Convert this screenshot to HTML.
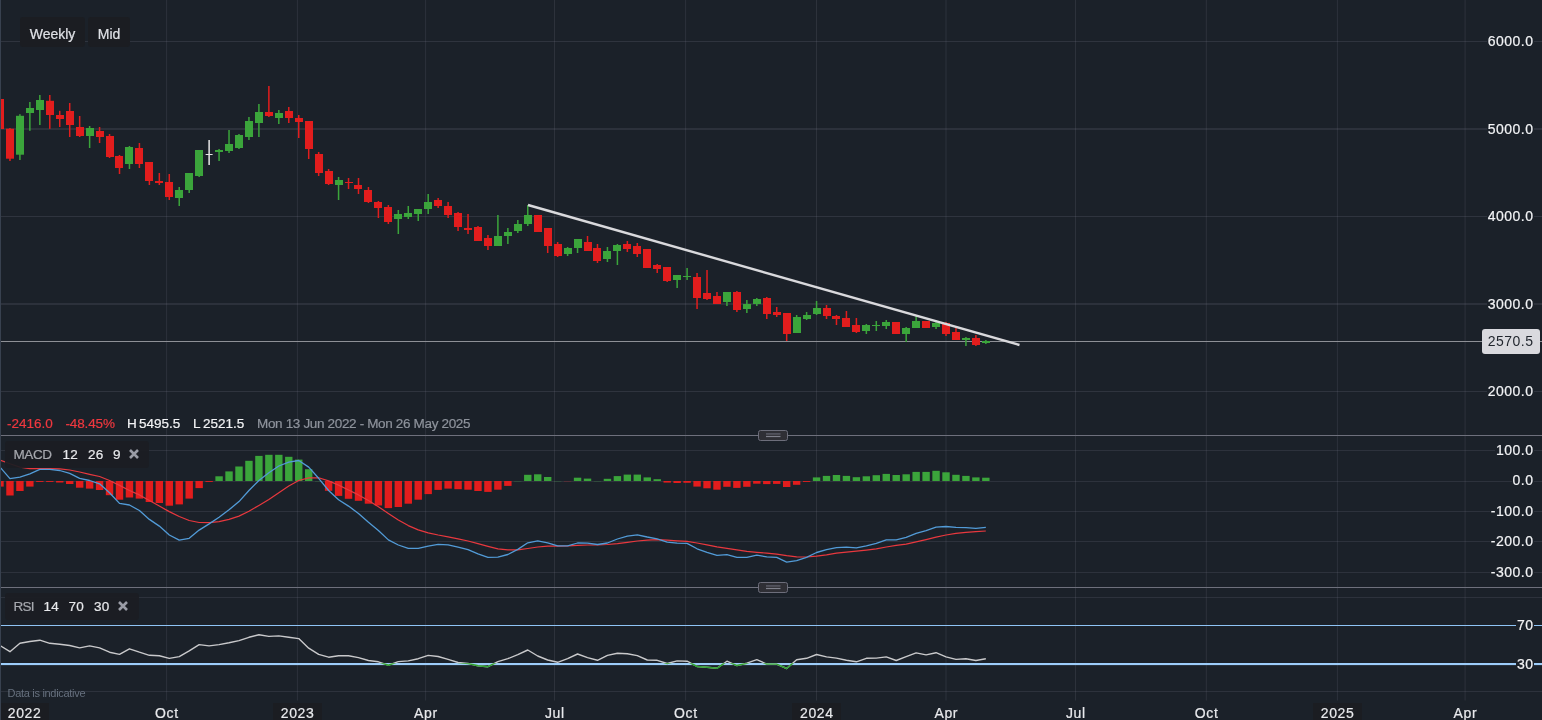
<!DOCTYPE html><html><head><meta charset="utf-8"><title>Chart</title><style>
html,body{margin:0;padding:0;background:#1b2129;}
body{width:1542px;height:720px;position:relative;overflow:hidden;font-family:"Liberation Sans",Arial,sans-serif;font-size:14px;color:#e8e9ec;}
.t{position:absolute;white-space:nowrap;line-height:16px;}
.btn,.tag span,.tl,.i{-webkit-text-stroke:0.2px currentColor;}
.ax{position:absolute;right:8.5px;letter-spacing:0.5px;white-space:nowrap;line-height:14px;height:14px;background:#1b2129;padding:0 0 0 1px;color:#f2f3f5;-webkit-text-stroke:0.2px #f2f3f5;}
.btn{position:absolute;top:17px;height:30px;line-height:35px;background:#1b1d22;border-radius:3px;color:#dfe1e6;box-sizing:border-box;text-align:center;}
.tag{position:absolute;height:26.5px;background:rgba(27,29,34,0.93);border-radius:3px;left:5px;font-size:13.5px;letter-spacing:0.2px;}
.tag span{position:absolute;top:0.7px;line-height:26px;white-space:nowrap;}
.g{color:#a7a9af;}
.i{top:416px;font-size:13.5px;}
.yr{position:absolute;top:703px;height:17px;width:48.5px;background:#1b1d22;}
.tl{position:absolute;top:703.5px;width:60px;margin-left:-30px;text-align:center;line-height:18px;color:#e8e9ec;letter-spacing:0.6px;text-indent:0.6px;}
</style></head><body>
<svg width="1542" height="720" viewBox="0 0 1542 720" style="position:absolute;left:0;top:0">
<rect width="1542" height="720" fill="#1b2129"/>
<rect x="0" y="41" width="1542" height="1" fill="rgba(130,130,150,0.2)"/>
<rect x="0" y="128" width="1542" height="2" fill="rgba(130,130,150,0.17)"/>
<rect x="0" y="216" width="1542" height="1" fill="rgba(130,130,150,0.2)"/>
<rect x="0" y="303" width="1542" height="2" fill="rgba(130,130,150,0.17)"/>
<rect x="0" y="391" width="1542" height="1" fill="rgba(130,130,150,0.2)"/>
<rect x="0" y="450" width="1542" height="1" fill="rgba(130,130,150,0.18)"/>
<rect x="0" y="481" width="1542" height="1" fill="rgba(130,130,150,0.18)"/>
<rect x="0" y="511" width="1542" height="1" fill="rgba(130,130,150,0.18)"/>
<rect x="0" y="541" width="1542" height="1" fill="rgba(130,130,150,0.18)"/>
<rect x="0" y="572" width="1542" height="1" fill="rgba(130,130,150,0.18)"/>
<rect x="0" y="597" width="1542" height="1" fill="rgba(130,130,150,0.18)"/>
<rect x="0" y="691" width="1542" height="1" fill="rgba(130,130,150,0.18)"/>
<rect x="166.1" y="0" width="1" height="700.5" fill="rgba(130,130,150,0.175)"/>
<rect x="296.9" y="0" width="1" height="700.5" fill="rgba(130,130,150,0.175)"/>
<rect x="425.1" y="0" width="1" height="700.5" fill="rgba(130,130,150,0.175)"/>
<rect x="554" y="0" width="1" height="700.5" fill="rgba(130,130,150,0.175)"/>
<rect x="685.1" y="0" width="1" height="700.5" fill="rgba(130,130,150,0.175)"/>
<rect x="816" y="0" width="1" height="700.5" fill="rgba(130,130,150,0.175)"/>
<rect x="945.5" y="0" width="1" height="700.5" fill="rgba(130,130,150,0.175)"/>
<rect x="1075" y="0" width="1" height="700.5" fill="rgba(130,130,150,0.175)"/>
<rect x="1205.8" y="0" width="1" height="700.5" fill="rgba(130,130,150,0.175)"/>
<rect x="1336.9" y="0" width="1" height="700.5" fill="rgba(130,130,150,0.175)"/>
<rect x="1464.6" y="0" width="1" height="700.5" fill="rgba(130,130,150,0.175)"/>
<rect x="-3.7" y="481" width="7.4" height="5.6" fill="#e21d1d"/>
<rect x="6.26" y="481" width="7.4" height="14.5" fill="#e21d1d"/>
<rect x="16.22" y="481" width="7.4" height="10" fill="#e21d1d"/>
<rect x="26.17" y="481" width="7.4" height="5.6" fill="#e21d1d"/>
<rect x="36.13" y="481" width="7.4" height="1" fill="#e21d1d" opacity="0.9"/>
<rect x="46.09" y="481" width="7.4" height="1" fill="#e21d1d" opacity="0.9"/>
<rect x="56.05" y="481" width="7.4" height="1.5" fill="#e21d1d"/>
<rect x="66.01" y="481" width="7.4" height="3" fill="#e21d1d"/>
<rect x="75.96" y="481" width="7.4" height="6.7" fill="#e21d1d"/>
<rect x="85.92" y="481" width="7.4" height="7.6" fill="#e21d1d"/>
<rect x="95.88" y="481" width="7.4" height="9" fill="#e21d1d"/>
<rect x="105.84" y="481" width="7.4" height="14.2" fill="#e21d1d"/>
<rect x="115.8" y="481" width="7.4" height="18.7" fill="#e21d1d"/>
<rect x="125.75" y="481" width="7.4" height="16.5" fill="#e21d1d"/>
<rect x="135.71" y="481" width="7.4" height="17.6" fill="#e21d1d"/>
<rect x="145.67" y="481" width="7.4" height="21" fill="#e21d1d"/>
<rect x="155.63" y="481" width="7.4" height="22" fill="#e21d1d"/>
<rect x="165.59" y="481" width="7.4" height="24.7" fill="#e21d1d"/>
<rect x="175.54" y="481" width="7.4" height="23.4" fill="#e21d1d"/>
<rect x="185.5" y="481" width="7.4" height="17.6" fill="#e21d1d"/>
<rect x="195.46" y="481" width="7.4" height="7.1" fill="#e21d1d"/>
<rect x="205.42" y="481" width="7.4" height="1" fill="#e21d1d" opacity="0.9"/>
<rect x="215.38" y="476.3" width="7.4" height="4.7" fill="#3ba53b"/>
<rect x="225.33" y="471.4" width="7.4" height="9.6" fill="#3ba53b"/>
<rect x="235.29" y="466.5" width="7.4" height="14.5" fill="#3ba53b"/>
<rect x="245.25" y="460.8" width="7.4" height="20.2" fill="#3ba53b"/>
<rect x="255.21" y="455.9" width="7.4" height="25.1" fill="#3ba53b"/>
<rect x="265.17" y="454.8" width="7.4" height="26.2" fill="#3ba53b"/>
<rect x="275.12" y="454.8" width="7.4" height="26.2" fill="#3ba53b"/>
<rect x="285.08" y="456.8" width="7.4" height="24.2" fill="#3ba53b"/>
<rect x="295.04" y="459.6" width="7.4" height="21.4" fill="#3ba53b"/>
<rect x="305" y="469.2" width="7.4" height="11.8" fill="#3ba53b"/>
<rect x="314.96" y="481" width="7.4" height="1" fill="#3ba53b" opacity="0.2"/>
<rect x="324.91" y="481" width="7.4" height="9.8" fill="#e21d1d"/>
<rect x="334.87" y="481" width="7.4" height="14.9" fill="#e21d1d"/>
<rect x="344.83" y="481" width="7.4" height="17.8" fill="#e21d1d"/>
<rect x="354.79" y="481" width="7.4" height="19.8" fill="#e21d1d"/>
<rect x="364.75" y="481" width="7.4" height="22.7" fill="#e21d1d"/>
<rect x="374.7" y="481" width="7.4" height="24.5" fill="#e21d1d"/>
<rect x="384.66" y="481" width="7.4" height="27.1" fill="#e21d1d"/>
<rect x="394.62" y="481" width="7.4" height="26" fill="#e21d1d"/>
<rect x="404.58" y="481" width="7.4" height="22.7" fill="#e21d1d"/>
<rect x="414.54" y="481" width="7.4" height="18.7" fill="#e21d1d"/>
<rect x="424.49" y="481" width="7.4" height="13.1" fill="#e21d1d"/>
<rect x="434.45" y="481" width="7.4" height="8.9" fill="#e21d1d"/>
<rect x="444.41" y="481" width="7.4" height="7.6" fill="#e21d1d"/>
<rect x="454.37" y="481" width="7.4" height="8.2" fill="#e21d1d"/>
<rect x="464.33" y="481" width="7.4" height="8.7" fill="#e21d1d"/>
<rect x="474.28" y="481" width="7.4" height="10" fill="#e21d1d"/>
<rect x="484.24" y="481" width="7.4" height="10.9" fill="#e21d1d"/>
<rect x="494.2" y="481" width="7.4" height="8.7" fill="#e21d1d"/>
<rect x="504.16" y="481" width="7.4" height="4.9" fill="#e21d1d"/>
<rect x="514.12" y="481" width="7.4" height="1" fill="#3ba53b" opacity="0.2"/>
<rect x="524.07" y="474.8" width="7.4" height="6.2" fill="#3ba53b"/>
<rect x="534.03" y="474.3" width="7.4" height="6.7" fill="#3ba53b"/>
<rect x="543.99" y="477" width="7.4" height="4" fill="#3ba53b"/>
<rect x="553.95" y="481" width="7.4" height="1" fill="#3ba53b" opacity="0.2"/>
<rect x="563.91" y="481" width="7.4" height="1" fill="#e21d1d" opacity="0.2"/>
<rect x="573.86" y="477.7" width="7.4" height="3.3" fill="#3ba53b"/>
<rect x="583.82" y="478.6" width="7.4" height="2.4" fill="#3ba53b"/>
<rect x="593.78" y="481" width="7.4" height="1" fill="#3ba53b" opacity="0.2"/>
<rect x="603.74" y="478.8" width="7.4" height="2.2" fill="#3ba53b"/>
<rect x="613.7" y="476.1" width="7.4" height="4.9" fill="#3ba53b"/>
<rect x="623.65" y="474.6" width="7.4" height="6.4" fill="#3ba53b"/>
<rect x="633.61" y="474.6" width="7.4" height="6.4" fill="#3ba53b"/>
<rect x="643.57" y="477.4" width="7.4" height="3.6" fill="#3ba53b"/>
<rect x="653.53" y="479.2" width="7.4" height="1.8" fill="#3ba53b"/>
<rect x="663.49" y="481" width="7.4" height="1.6" fill="#e21d1d"/>
<rect x="673.44" y="481" width="7.4" height="2" fill="#e21d1d"/>
<rect x="683.4" y="481" width="7.4" height="1.8" fill="#e21d1d"/>
<rect x="693.36" y="481" width="7.4" height="5.6" fill="#e21d1d"/>
<rect x="703.32" y="481" width="7.4" height="7.3" fill="#e21d1d"/>
<rect x="713.28" y="481" width="7.4" height="8.7" fill="#e21d1d"/>
<rect x="723.23" y="481" width="7.4" height="5.8" fill="#e21d1d"/>
<rect x="733.19" y="481" width="7.4" height="6.9" fill="#e21d1d"/>
<rect x="743.15" y="481" width="7.4" height="5.8" fill="#e21d1d"/>
<rect x="753.11" y="481" width="7.4" height="2.7" fill="#e21d1d"/>
<rect x="763.07" y="481" width="7.4" height="3.1" fill="#e21d1d"/>
<rect x="773.02" y="481" width="7.4" height="2.9" fill="#e21d1d"/>
<rect x="782.98" y="481" width="7.4" height="6" fill="#e21d1d"/>
<rect x="792.94" y="481" width="7.4" height="3.8" fill="#e21d1d"/>
<rect x="802.9" y="481" width="7.4" height="1" fill="#e21d1d" opacity="0.9"/>
<rect x="812.86" y="477.4" width="7.4" height="3.6" fill="#3ba53b"/>
<rect x="822.81" y="475.9" width="7.4" height="5.1" fill="#3ba53b"/>
<rect x="832.77" y="475" width="7.4" height="6" fill="#3ba53b"/>
<rect x="842.73" y="475.9" width="7.4" height="5.1" fill="#3ba53b"/>
<rect x="852.69" y="477.2" width="7.4" height="3.8" fill="#3ba53b"/>
<rect x="862.65" y="476.3" width="7.4" height="4.7" fill="#3ba53b"/>
<rect x="872.6" y="475.2" width="7.4" height="5.8" fill="#3ba53b"/>
<rect x="882.56" y="473.9" width="7.4" height="7.1" fill="#3ba53b"/>
<rect x="892.52" y="475" width="7.4" height="6" fill="#3ba53b"/>
<rect x="902.48" y="474.3" width="7.4" height="6.7" fill="#3ba53b"/>
<rect x="912.44" y="471.9" width="7.4" height="9.1" fill="#3ba53b"/>
<rect x="922.39" y="471.9" width="7.4" height="9.1" fill="#3ba53b"/>
<rect x="932.35" y="470.8" width="7.4" height="10.2" fill="#3ba53b"/>
<rect x="942.31" y="472.3" width="7.4" height="8.7" fill="#3ba53b"/>
<rect x="952.27" y="474.8" width="7.4" height="6.2" fill="#3ba53b"/>
<rect x="962.23" y="475.9" width="7.4" height="5.1" fill="#3ba53b"/>
<rect x="972.18" y="477.4" width="7.4" height="3.6" fill="#3ba53b"/>
<rect x="982.14" y="477.7" width="7.4" height="3.3" fill="#3ba53b"/>
<polyline points="0,460 9.96,463.8 19.92,467.1 29.87,468.7 39.83,468.7 49.79,468.7 59.75,468.9 69.71,470 79.66,472 89.62,474.3 99.58,476.5 109.54,480.5 119.5,485.4 129.45,490.5 139.41,494.9 149.37,500.5 159.33,506.1 169.29,511.6 179.24,516.5 189.2,520.5 199.16,522.5 209.12,522.7 219.08,521.6 229.03,519.4 238.99,516.1 248.95,511.2 258.91,505.4 268.87,499.4 278.82,492.7 288.78,486 298.74,480.5 308.7,477.8 318.66,477.8 328.61,480.9 338.57,485.1 348.53,490 358.49,494.9 368.45,500.5 378.4,506.7 388.36,513.4 398.32,519.9 408.28,525.6 418.24,529.9 428.19,532.8 438.15,535 448.11,536.8 458.07,538.8 468.03,541 477.98,543.7 487.94,546.3 497.9,548.8 507.86,549.9 517.82,549.9 527.77,548.5 537.73,547 547.69,546.1 557.65,546.1 567.61,545.9 577.56,545.4 587.52,545 597.48,545 607.44,544.5 617.4,543.7 627.35,542.3 637.31,541 647.27,540.1 657.23,539.6 667.19,540.1 677.14,540.8 687.1,541.4 697.06,543 707.02,544.8 716.98,546.8 726.93,548.3 736.89,549.9 746.85,551.4 756.81,552.3 766.77,553.2 776.72,554.1 786.68,555.7 796.64,556.8 806.6,557 816.56,556.1 826.51,554.8 836.47,553.2 846.43,552.1 856.39,551.2 866.35,550.1 876.3,548.8 886.26,547 896.22,545.4 906.18,544.1 916.14,541.9 926.09,539.6 936.05,537.2 946.01,535 955.97,533.4 965.93,532.3 975.88,531.6 985.84,531" fill="none" stroke="#e8383e" stroke-width="1.2" stroke-linejoin="round" />
<polyline points="0,467.1 9.96,478.7 19.92,477.1 29.87,473.8 39.83,469.4 49.79,469.4 59.75,470.5 69.71,473.4 79.66,478.3 89.62,480.5 99.58,483.8 109.54,492.7 119.5,503.4 129.45,505 139.41,510.5 149.37,519.4 159.33,526.1 169.29,535 179.24,540.1 189.2,538.3 199.16,530.1 209.12,523.9 219.08,517.2 229.03,509.8 238.99,501.6 248.95,490.5 258.91,480.5 268.87,472.7 278.82,466 288.78,462.2 298.74,460.5 308.7,467.1 318.66,478.3 328.61,490.5 338.57,499.8 348.53,506.1 358.49,513.4 368.45,522.3 378.4,530.5 388.36,539.9 398.32,545 408.28,548.3 418.24,548.3 428.19,546.1 438.15,544.3 448.11,544.8 458.07,547.2 468.03,549.7 477.98,553.9 487.94,557.4 497.9,557.2 507.86,554.5 517.82,549.4 527.77,542.8 537.73,540.8 547.69,542.8 557.65,545.9 567.61,545.9 577.56,543 587.52,543.2 597.48,544.5 607.44,543 617.4,539 627.35,536.1 637.31,534.8 647.27,537 657.23,538.8 667.19,542.1 677.14,543.2 687.1,543.4 697.06,548.8 707.02,552.3 716.98,555.4 726.93,554.6 736.89,557.4 746.85,557.4 756.81,555.2 766.77,556.8 776.72,557.4 786.68,562.1 796.64,560.6 806.6,557.4 816.56,552.5 826.51,549.7 836.47,547.7 846.43,547.2 856.39,547.9 866.35,545.9 876.3,543.4 886.26,539.9 896.22,539.9 906.18,537.4 916.14,533.4 926.09,530.7 936.05,527.2 946.01,526.5 955.97,527.4 965.93,527.6 975.88,528.3 985.84,527.4" fill="none" stroke="#529bd7" stroke-width="1.3" stroke-linejoin="round" />
<rect x="0" y="625" width="1542" height="1" fill="#8fc4f5"/>
<rect x="0" y="663" width="1542" height="2.1" fill="#9dcdfa"/>
<polyline points="0,645.5 9.96,651.7 19.92,643.3 29.87,641.5 39.83,640.2 49.79,643.3 59.75,644.2 69.71,645.5 79.66,647.9 89.62,645.9 99.58,647.9 109.54,652.2 119.5,654.4 129.45,648.8 139.41,652.2 149.37,655.3 159.33,655.7 169.29,658.4 179.24,656.6 189.2,650.8 199.16,644.6 209.12,645.9 219.08,644.6 229.03,642.8 238.99,640.6 248.95,637.3 258.91,634.8 268.87,636.4 278.82,635.9 288.78,637.3 298.74,638.6 308.7,648.2 318.66,654.4 328.61,657.2 338.57,655.8 348.53,655.8 358.49,657.6 368.45,660.5 378.4,661.8 388.36,665.2 398.32,661.6 408.28,660.9 418.24,658.7 428.19,655.4 438.15,656.5 448.11,659.4 458.07,662.5 468.03,663.4 477.98,665.8 487.94,666.7 497.9,661.6 507.86,658.7 517.82,654.7 527.77,650 537.73,656 547.69,660 557.65,662.3 567.61,658.7 577.56,654 587.52,657.6 597.48,660.3 607.44,655.4 617.4,653.2 627.35,653.8 637.31,655.6 647.27,660 657.23,660.3 667.19,663.5 677.14,660.9 687.1,661.2 697.06,666.5 707.02,667.2 716.98,668.3 726.93,661.2 736.89,665.6 746.85,663.2 756.81,659.6 766.77,664.1 776.72,664.1 786.68,668.5 796.64,659.8 806.6,658.3 816.56,654.5 826.51,656.9 836.47,658.1 846.43,660.3 856.39,661.8 866.35,658.3 876.3,658.1 886.26,656.9 896.22,660.5 906.18,656.7 916.14,652.9 926.09,654.9 936.05,652.7 946.01,656.9 955.97,659.4 965.93,658.7 975.88,660.5 985.84,658.7" fill="none" stroke="#c9c9cb" stroke-width="1.4" stroke-linejoin="round" />
<clipPath id="os"><rect x="0" y="663.3" width="1542" height="30"/></clipPath>
<polyline points="0,645.5 9.96,651.7 19.92,643.3 29.87,641.5 39.83,640.2 49.79,643.3 59.75,644.2 69.71,645.5 79.66,647.9 89.62,645.9 99.58,647.9 109.54,652.2 119.5,654.4 129.45,648.8 139.41,652.2 149.37,655.3 159.33,655.7 169.29,658.4 179.24,656.6 189.2,650.8 199.16,644.6 209.12,645.9 219.08,644.6 229.03,642.8 238.99,640.6 248.95,637.3 258.91,634.8 268.87,636.4 278.82,635.9 288.78,637.3 298.74,638.6 308.7,648.2 318.66,654.4 328.61,657.2 338.57,655.8 348.53,655.8 358.49,657.6 368.45,660.5 378.4,661.8 388.36,665.2 398.32,661.6 408.28,660.9 418.24,658.7 428.19,655.4 438.15,656.5 448.11,659.4 458.07,662.5 468.03,663.4 477.98,665.8 487.94,666.7 497.9,661.6 507.86,658.7 517.82,654.7 527.77,650 537.73,656 547.69,660 557.65,662.3 567.61,658.7 577.56,654 587.52,657.6 597.48,660.3 607.44,655.4 617.4,653.2 627.35,653.8 637.31,655.6 647.27,660 657.23,660.3 667.19,663.5 677.14,660.9 687.1,661.2 697.06,666.5 707.02,667.2 716.98,668.3 726.93,661.2 736.89,665.6 746.85,663.2 756.81,659.6 766.77,664.1 776.72,664.1 786.68,668.5 796.64,659.8 806.6,658.3 816.56,654.5 826.51,656.9 836.47,658.1 846.43,660.3 856.39,661.8 866.35,658.3 876.3,658.1 886.26,656.9 896.22,660.5 906.18,656.7 916.14,652.9 926.09,654.9 936.05,652.7 946.01,656.9 955.97,659.4 965.93,658.7 975.88,660.5 985.84,658.7" fill="none" stroke="#2fa32f" stroke-width="1.5" stroke-linejoin="round" clip-path="url(#os)"/>
<rect x="0" y="341" width="1542" height="1" fill="#8e9096"/>
<rect x="-0.75" y="99" width="1.5" height="30" fill="#e21d1d"/>
<rect x="-4" y="99" width="8" height="30" fill="#e21d1d"/>
<rect x="9.21" y="128" width="1.5" height="33" fill="#e21d1d"/>
<rect x="6" y="128.7" width="8" height="30" fill="#e21d1d"/>
<rect x="19.17" y="114.2" width="1.5" height="45.8" fill="#3ba53b"/>
<rect x="16" y="115.8" width="8" height="38.9" fill="#3ba53b"/>
<rect x="29.12" y="102" width="1.5" height="28.8" fill="#3ba53b"/>
<rect x="26" y="108" width="8" height="5" fill="#3ba53b"/>
<rect x="39.08" y="95" width="1.5" height="30" fill="#3ba53b"/>
<rect x="36" y="100" width="8" height="10" fill="#3ba53b"/>
<rect x="49.04" y="95" width="1.5" height="33.8" fill="#e21d1d"/>
<rect x="46" y="100.8" width="8" height="14.2" fill="#e21d1d"/>
<rect x="59" y="110.8" width="1.5" height="16.2" fill="#e21d1d"/>
<rect x="56" y="115" width="8" height="4" fill="#e21d1d"/>
<rect x="68.96" y="103" width="1.5" height="34" fill="#e21d1d"/>
<rect x="66" y="111" width="8" height="14" fill="#e21d1d"/>
<rect x="78.91" y="116" width="1.5" height="21" fill="#e21d1d"/>
<rect x="76" y="127" width="8" height="9" fill="#e21d1d"/>
<rect x="88.87" y="126" width="1.5" height="22" fill="#3ba53b"/>
<rect x="86" y="128" width="8" height="8" fill="#3ba53b"/>
<rect x="98.83" y="127" width="1.5" height="16" fill="#e21d1d"/>
<rect x="96" y="131" width="8" height="6" fill="#e21d1d"/>
<rect x="108.79" y="134" width="1.5" height="24" fill="#e21d1d"/>
<rect x="106" y="136" width="8" height="21" fill="#e21d1d"/>
<rect x="118.75" y="155" width="1.5" height="19" fill="#e21d1d"/>
<rect x="115" y="156" width="8" height="12" fill="#e21d1d"/>
<rect x="128.7" y="146" width="1.5" height="23" fill="#3ba53b"/>
<rect x="125" y="147" width="8" height="17" fill="#3ba53b"/>
<rect x="138.66" y="143" width="1.5" height="25" fill="#e21d1d"/>
<rect x="135" y="148" width="8" height="16" fill="#e21d1d"/>
<rect x="148.62" y="162" width="1.5" height="23" fill="#e21d1d"/>
<rect x="145" y="162" width="8" height="19" fill="#e21d1d"/>
<rect x="158.58" y="173" width="1.5" height="12" fill="#e21d1d"/>
<rect x="155" y="181" width="8" height="2" fill="#e21d1d"/>
<rect x="168.54" y="174" width="1.5" height="26" fill="#e21d1d"/>
<rect x="165" y="182" width="8" height="15" fill="#e21d1d"/>
<rect x="178.49" y="187" width="1.5" height="19" fill="#3ba53b"/>
<rect x="175" y="190" width="8" height="8" fill="#3ba53b"/>
<rect x="188.45" y="173" width="1.5" height="20" fill="#3ba53b"/>
<rect x="185" y="173" width="8" height="17" fill="#3ba53b"/>
<rect x="198.41" y="150" width="1.5" height="27" fill="#3ba53b"/>
<rect x="195" y="150" width="8" height="26" fill="#3ba53b"/>
<rect x="208.37" y="140" width="1.5" height="25" fill="#e6e6e6"/>
<rect x="205.62" y="154" width="7" height="1" fill="#e6e6e6"/>
<rect x="218.33" y="149" width="1.5" height="12" fill="#3ba53b"/>
<rect x="215" y="150" width="8" height="2" fill="#3ba53b"/>
<rect x="228.28" y="130" width="1.5" height="23" fill="#3ba53b"/>
<rect x="225" y="144" width="8" height="7" fill="#3ba53b"/>
<rect x="238.24" y="134" width="1.5" height="15" fill="#3ba53b"/>
<rect x="235" y="135" width="8" height="13" fill="#3ba53b"/>
<rect x="248.2" y="117" width="1.5" height="23" fill="#3ba53b"/>
<rect x="245" y="121" width="8" height="16" fill="#3ba53b"/>
<rect x="258.16" y="104" width="1.5" height="33" fill="#3ba53b"/>
<rect x="255" y="112" width="8" height="11" fill="#3ba53b"/>
<rect x="268.12" y="86" width="1.5" height="31" fill="#e21d1d"/>
<rect x="265" y="112" width="8" height="4" fill="#e21d1d"/>
<rect x="278.07" y="110" width="1.5" height="14" fill="#3ba53b"/>
<rect x="275" y="113" width="8" height="5" fill="#3ba53b"/>
<rect x="288.03" y="107" width="1.5" height="16" fill="#e21d1d"/>
<rect x="285" y="111" width="8" height="7" fill="#e21d1d"/>
<rect x="297.99" y="115" width="1.5" height="23" fill="#e21d1d"/>
<rect x="295" y="118" width="8" height="4" fill="#e21d1d"/>
<rect x="307.95" y="121" width="1.5" height="38" fill="#e21d1d"/>
<rect x="305" y="121" width="8" height="28" fill="#e21d1d"/>
<rect x="317.91" y="152" width="1.5" height="24" fill="#e21d1d"/>
<rect x="315" y="154" width="8" height="19" fill="#e21d1d"/>
<rect x="327.86" y="169" width="1.5" height="16" fill="#e21d1d"/>
<rect x="325" y="171" width="8" height="13" fill="#e21d1d"/>
<rect x="337.82" y="177" width="1.5" height="23" fill="#3ba53b"/>
<rect x="335" y="180" width="8" height="5" fill="#3ba53b"/>
<rect x="347.78" y="178" width="1.5" height="11" fill="#e21d1d"/>
<rect x="345" y="182" width="8" height="1" fill="#e21d1d"/>
<rect x="357.74" y="178" width="1.5" height="16" fill="#e21d1d"/>
<rect x="354" y="185" width="8" height="4" fill="#e21d1d"/>
<rect x="367.7" y="187" width="1.5" height="16" fill="#e21d1d"/>
<rect x="364" y="190" width="8" height="12" fill="#e21d1d"/>
<rect x="377.65" y="201" width="1.5" height="17" fill="#e21d1d"/>
<rect x="374" y="202" width="8" height="6" fill="#e21d1d"/>
<rect x="387.61" y="205" width="1.5" height="19" fill="#e21d1d"/>
<rect x="384" y="207" width="8" height="15" fill="#e21d1d"/>
<rect x="397.57" y="210" width="1.5" height="24" fill="#3ba53b"/>
<rect x="394" y="214" width="8" height="5" fill="#3ba53b"/>
<rect x="407.53" y="206" width="1.5" height="13" fill="#3ba53b"/>
<rect x="404" y="213" width="8" height="4" fill="#3ba53b"/>
<rect x="417.49" y="209" width="1.5" height="12" fill="#3ba53b"/>
<rect x="414" y="209" width="8" height="5" fill="#3ba53b"/>
<rect x="427.44" y="194" width="1.5" height="20" fill="#3ba53b"/>
<rect x="424" y="202" width="8" height="7" fill="#3ba53b"/>
<rect x="437.4" y="198" width="1.5" height="10" fill="#e21d1d"/>
<rect x="434" y="200" width="8" height="6" fill="#e21d1d"/>
<rect x="447.36" y="202" width="1.5" height="16" fill="#e21d1d"/>
<rect x="444" y="206" width="8" height="9" fill="#e21d1d"/>
<rect x="457.32" y="212" width="1.5" height="19" fill="#e21d1d"/>
<rect x="454" y="213" width="8" height="14" fill="#e21d1d"/>
<rect x="467.28" y="214" width="1.5" height="20" fill="#e21d1d"/>
<rect x="464" y="228" width="8" height="2" fill="#e21d1d"/>
<rect x="477.23" y="226" width="1.5" height="15" fill="#e21d1d"/>
<rect x="474" y="227" width="8" height="14" fill="#e21d1d"/>
<rect x="487.19" y="235" width="1.5" height="15" fill="#e21d1d"/>
<rect x="484" y="238" width="8" height="8" fill="#e21d1d"/>
<rect x="497.15" y="215" width="1.5" height="31" fill="#3ba53b"/>
<rect x="494" y="236" width="8" height="10" fill="#3ba53b"/>
<rect x="507.11" y="228" width="1.5" height="16" fill="#3ba53b"/>
<rect x="504" y="232" width="8" height="4" fill="#3ba53b"/>
<rect x="517.07" y="220" width="1.5" height="13" fill="#3ba53b"/>
<rect x="514" y="224" width="8" height="7" fill="#3ba53b"/>
<rect x="527.02" y="205" width="1.5" height="21" fill="#3ba53b"/>
<rect x="524" y="215" width="8" height="9" fill="#3ba53b"/>
<rect x="536.98" y="215" width="1.5" height="17" fill="#e21d1d"/>
<rect x="534" y="215" width="8" height="17" fill="#e21d1d"/>
<rect x="546.94" y="228" width="1.5" height="25" fill="#e21d1d"/>
<rect x="544" y="228" width="8" height="18" fill="#e21d1d"/>
<rect x="556.9" y="242" width="1.5" height="15" fill="#e21d1d"/>
<rect x="554" y="244" width="8" height="12" fill="#e21d1d"/>
<rect x="566.86" y="247" width="1.5" height="9" fill="#3ba53b"/>
<rect x="564" y="248" width="8" height="6" fill="#3ba53b"/>
<rect x="576.81" y="239" width="1.5" height="14" fill="#3ba53b"/>
<rect x="574" y="239" width="8" height="9" fill="#3ba53b"/>
<rect x="586.77" y="236" width="1.5" height="15" fill="#e21d1d"/>
<rect x="584" y="242" width="8" height="9" fill="#e21d1d"/>
<rect x="596.73" y="244" width="1.5" height="19" fill="#e21d1d"/>
<rect x="593" y="248" width="8" height="13" fill="#e21d1d"/>
<rect x="606.69" y="247" width="1.5" height="15" fill="#3ba53b"/>
<rect x="603" y="251" width="8" height="8" fill="#3ba53b"/>
<rect x="616.65" y="244" width="1.5" height="21" fill="#3ba53b"/>
<rect x="613" y="245" width="8" height="6" fill="#3ba53b"/>
<rect x="626.6" y="241" width="1.5" height="11" fill="#e21d1d"/>
<rect x="623" y="244" width="8" height="5" fill="#e21d1d"/>
<rect x="636.56" y="243" width="1.5" height="14" fill="#e21d1d"/>
<rect x="633" y="246" width="8" height="8" fill="#e21d1d"/>
<rect x="646.52" y="249" width="1.5" height="19" fill="#e21d1d"/>
<rect x="643" y="249" width="8" height="19" fill="#e21d1d"/>
<rect x="656.48" y="264" width="1.5" height="9" fill="#e21d1d"/>
<rect x="653" y="265" width="8" height="4" fill="#e21d1d"/>
<rect x="666.44" y="267" width="1.5" height="15" fill="#e21d1d"/>
<rect x="663" y="267" width="8" height="14" fill="#e21d1d"/>
<rect x="676.39" y="275" width="1.5" height="13" fill="#3ba53b"/>
<rect x="673" y="275" width="8" height="5" fill="#3ba53b"/>
<rect x="686.35" y="268" width="1.5" height="12" fill="#3ba53b"/>
<rect x="683" y="276" width="8" height="1" fill="#3ba53b"/>
<rect x="696.31" y="273" width="1.5" height="36" fill="#e21d1d"/>
<rect x="693" y="277" width="8" height="21" fill="#e21d1d"/>
<rect x="706.27" y="270" width="1.5" height="30" fill="#e21d1d"/>
<rect x="703" y="293" width="8" height="6" fill="#e21d1d"/>
<rect x="716.23" y="292" width="1.5" height="12" fill="#e21d1d"/>
<rect x="713" y="296" width="8" height="8" fill="#e21d1d"/>
<rect x="726.18" y="292" width="1.5" height="14" fill="#3ba53b"/>
<rect x="723" y="292" width="8" height="10" fill="#3ba53b"/>
<rect x="736.14" y="291" width="1.5" height="21" fill="#e21d1d"/>
<rect x="733" y="292" width="8" height="18" fill="#e21d1d"/>
<rect x="746.1" y="300" width="1.5" height="13" fill="#3ba53b"/>
<rect x="743" y="304" width="8" height="5" fill="#3ba53b"/>
<rect x="756.06" y="298" width="1.5" height="8" fill="#3ba53b"/>
<rect x="753" y="299" width="8" height="5" fill="#3ba53b"/>
<rect x="766.02" y="297" width="1.5" height="22" fill="#e21d1d"/>
<rect x="763" y="298" width="8" height="16" fill="#e21d1d"/>
<rect x="775.97" y="307" width="1.5" height="10" fill="#e21d1d"/>
<rect x="773" y="312" width="8" height="3" fill="#e21d1d"/>
<rect x="785.93" y="313" width="1.5" height="28" fill="#e21d1d"/>
<rect x="783" y="313" width="8" height="21" fill="#e21d1d"/>
<rect x="795.89" y="315" width="1.5" height="18" fill="#3ba53b"/>
<rect x="793" y="317" width="8" height="16" fill="#3ba53b"/>
<rect x="805.85" y="312" width="1.5" height="8" fill="#3ba53b"/>
<rect x="803" y="315" width="8" height="4" fill="#3ba53b"/>
<rect x="815.81" y="301" width="1.5" height="14" fill="#3ba53b"/>
<rect x="813" y="308" width="8" height="6" fill="#3ba53b"/>
<rect x="825.76" y="305" width="1.5" height="14" fill="#e21d1d"/>
<rect x="823" y="308" width="8" height="8" fill="#e21d1d"/>
<rect x="835.72" y="315" width="1.5" height="10" fill="#e21d1d"/>
<rect x="832" y="316" width="8" height="3" fill="#e21d1d"/>
<rect x="845.68" y="311" width="1.5" height="16" fill="#e21d1d"/>
<rect x="842" y="318" width="8" height="9" fill="#e21d1d"/>
<rect x="855.64" y="318" width="1.5" height="15" fill="#e21d1d"/>
<rect x="852" y="325" width="8" height="7" fill="#e21d1d"/>
<rect x="865.6" y="324" width="1.5" height="10" fill="#3ba53b"/>
<rect x="862" y="325" width="8" height="6" fill="#3ba53b"/>
<rect x="875.55" y="321" width="1.5" height="10" fill="#3ba53b"/>
<rect x="872" y="325" width="8" height="1" fill="#3ba53b"/>
<rect x="885.51" y="320" width="1.5" height="9" fill="#3ba53b"/>
<rect x="882" y="322" width="8" height="4" fill="#3ba53b"/>
<rect x="895.47" y="322" width="1.5" height="12" fill="#e21d1d"/>
<rect x="892" y="322" width="8" height="12" fill="#e21d1d"/>
<rect x="905.43" y="327" width="1.5" height="15" fill="#3ba53b"/>
<rect x="902" y="328" width="8" height="6" fill="#3ba53b"/>
<rect x="915.39" y="316" width="1.5" height="12" fill="#3ba53b"/>
<rect x="912" y="321" width="8" height="7" fill="#3ba53b"/>
<rect x="925.34" y="321" width="1.5" height="7" fill="#e21d1d"/>
<rect x="922" y="321" width="8" height="7" fill="#e21d1d"/>
<rect x="935.3" y="320" width="1.5" height="9" fill="#3ba53b"/>
<rect x="932" y="323" width="8" height="4" fill="#3ba53b"/>
<rect x="945.26" y="322" width="1.5" height="14" fill="#e21d1d"/>
<rect x="942" y="323" width="8" height="11" fill="#e21d1d"/>
<rect x="955.22" y="328" width="1.5" height="12" fill="#e21d1d"/>
<rect x="952" y="332" width="8" height="8" fill="#e21d1d"/>
<rect x="965.18" y="337" width="1.5" height="9" fill="#3ba53b"/>
<rect x="962" y="338" width="8" height="2" fill="#3ba53b"/>
<rect x="975.13" y="335" width="1.5" height="11" fill="#e21d1d"/>
<rect x="972" y="338" width="8" height="7" fill="#e21d1d"/>
<rect x="985.09" y="340" width="1.5" height="4" fill="#3ba53b"/>
<rect x="982" y="341" width="8" height="2" fill="#3ba53b"/>
<line x1="528" y1="205" x2="1019.5" y2="345" stroke="#d9d9dc" stroke-width="2.4" stroke-linecap="butt"/>
<rect x="0" y="435.0" width="1542" height="1" fill="#6e707c"/>
<rect x="758.5" y="430.5" width="29" height="10" rx="2" fill="#2f2f35" stroke="#6d6e7b" stroke-width="1"/>
<rect x="766" y="433.2" width="14.5" height="1.5" fill="#5a5b66"/>
<rect x="766" y="435.9" width="14.5" height="1.2" fill="#7f808b"/>
<rect x="0" y="587.0" width="1542" height="1" fill="#6e707c"/>
<rect x="758.5" y="582.5" width="29" height="10" rx="2" fill="#2f2f35" stroke="#6d6e7b" stroke-width="1"/>
<rect x="766" y="585.2" width="14.5" height="1.5" fill="#5a5b66"/>
<rect x="766" y="587.9" width="14.5" height="1.2" fill="#7f808b"/>
<rect x="0" y="0" width="1" height="720" fill="#38414f"/>
</svg>
<div class="btn" style="left:20px;width:65px">Weekly</div>
<div class="btn" style="left:88px;width:42px">Mid</div>
<div class="ax" style="top:34px">6000.0</div>
<div class="ax" style="top:122px">5000.0</div>
<div class="ax" style="top:209px">4000.0</div>
<div class="ax" style="top:297px">3000.0</div>
<div class="ax" style="top:384px">2000.0</div>
<div class="ax" style="top:442.5px">100.0</div>
<div class="ax" style="top:473px">0.0</div>
<div class="ax" style="top:503.5px">-100.0</div>
<div class="ax" style="top:533.5px">-200.0</div>
<div class="ax" style="top:565.3px">-300.0</div>
<div class="ax" style="top:618px">70</div>
<div class="ax" style="top:657px">30</div>
<div style="position:absolute;left:1482px;top:329px;width:58px;height:25px;border-radius:3px;background:#d9d9de;color:#1f242c;line-height:24px;text-align:right;padding-right:6.5px;letter-spacing:0.5px;box-sizing:border-box">2570.5</div>
<div class="t i" style="left:7px;color:#f0383f">-2416.0</div>
<div class="t i" style="left:65.5px;color:#f0383f;letter-spacing:-0.15px">-48.45%</div>
<div class="t i" style="left:127px;color:#f2f3f5">H</div>
<div class="t i" style="left:139px;color:#f2f3f5">5495.5</div>
<div class="t i" style="left:193px;color:#f2f3f5">L</div>
<div class="t i" style="left:203px;color:#f2f3f5">2521.5</div>
<div class="t i" style="left:257px;color:#8e939c;letter-spacing:-0.34px">Mon 13 Jun 2022 - Mon 26 May 2025</div>
<div class="tag" style="top:441px;width:144px"><span class="g" style="left:8.5px;letter-spacing:-0.4px">MACD</span><span style="left:57.5px">12</span><span style="left:83px">26</span><span style="left:108px">9</span><svg width="10" height="10" viewBox="0 0 10 10" style="position:absolute;left:124px;top:8.3px"><path d="M1 1L9 9M9 1L1 9" stroke="#9a9ca6" stroke-width="2.6" fill="none"/></svg></div>
<div class="tag" style="top:593px;width:133.5px"><span class="g" style="left:8.5px;letter-spacing:-0.7px">RSI</span><span style="left:38.5px">14</span><span style="left:63.5px">70</span><span style="left:89px">30</span><svg width="10" height="10" viewBox="0 0 10 10" style="position:absolute;left:113px;top:8.3px"><path d="M1 1L9 9M9 1L1 9" stroke="#9a9ca6" stroke-width="2.6" fill="none"/></svg></div>
<div class="t" style="left:7.5px;top:685px;font-size:11px;letter-spacing:-0.3px;color:#66707e">Data is indicative</div>
<div class="tl" style="left:166.6px">Oct</div>
<div class="tl" style="left:425.6px">Apr</div>
<div class="tl" style="left:554.5px">Jul</div>
<div class="tl" style="left:685.6px">Oct</div>
<div class="tl" style="left:946px">Apr</div>
<div class="tl" style="left:1075.5px">Jul</div>
<div class="tl" style="left:1206.3px">Oct</div>
<div class="tl" style="left:1465.1px">Apr</div>
<div class="yr" style="left:1px;width:47.6px"></div><div class="tl" style="left:24.3px">2022</div>
<div class="yr" style="left:273.1px;width:48.5px"></div><div class="tl" style="left:297.3px">2023</div>
<div class="yr" style="left:792.3px;width:48.5px"></div><div class="tl" style="left:816.5px">2024</div>
<div class="yr" style="left:1313.1px;width:48.5px"></div><div class="tl" style="left:1337.3px">2025</div>
</body></html>
